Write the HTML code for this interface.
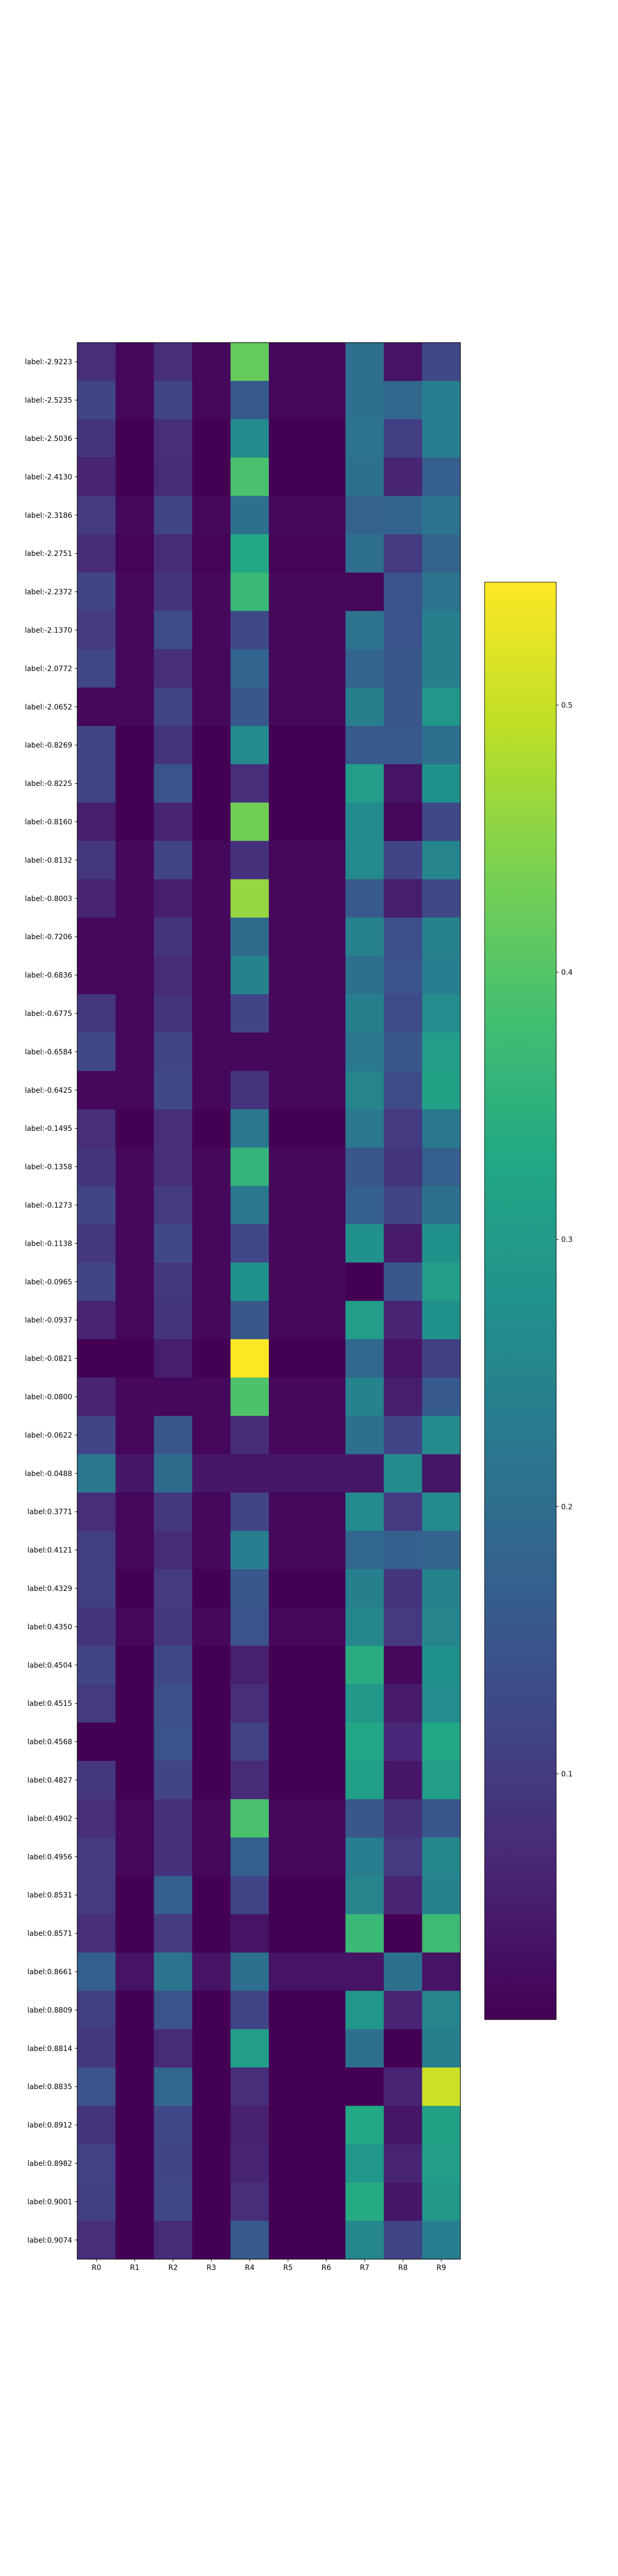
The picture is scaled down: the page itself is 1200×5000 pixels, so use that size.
<!DOCTYPE html>
<html><head><meta charset="utf-8"><style>
html,body{margin:0;padding:0;background:#fff;}
svg{display:block;}
text{font-family:"DejaVu Sans","Liberation Sans",sans-serif;font-size:13.9px;fill:#000;}
</style></head>
<body>
<svg id="chart" width="1200" height="5000" viewBox="0 0 1200 5000" xmlns="http://www.w3.org/2000/svg">
<defs><linearGradient id="vir" x1="0" y1="1" x2="0" y2="0"></linearGradient></defs>
<g id="cells"></g>
<g id="yaxis"></g>
<g id="xaxis"></g>
<rect x="150" y="665" width="744" height="3720" fill="none" stroke="#000" stroke-width="1.2"/>
<g id="cbar"></g>
</svg>
<script>
const rowLabels = ["label:-2.9223","label:-2.5235","label:-2.5036","label:-2.4130","label:-2.3186","label:-2.2751","label:-2.2372","label:-2.1370","label:-2.0772","label:-2.0652","label:-0.8269","label:-0.8225","label:-0.8160","label:-0.8132","label:-0.8003","label:-0.7206","label:-0.6836","label:-0.6775","label:-0.6584","label:-0.6425","label:-0.1495","label:-0.1358","label:-0.1273","label:-0.1138","label:-0.0965","label:-0.0937","label:-0.0821","label:-0.0800","label:-0.0622","label:-0.0488","label:0.3771","label:0.4121","label:0.4329","label:0.4350","label:0.4504","label:0.4515","label:0.4568","label:0.4827","label:0.4902","label:0.4956","label:0.8531","label:0.8571","label:0.8661","label:0.8809","label:0.8814","label:0.8835","label:0.8912","label:0.8982","label:0.9001","label:0.9074"];
const colLabels = ["R0","R1","R2","R3","R4","R5","R6","R7","R8","R9"];
const R0 = [.078,.116,.089,.062,.099,.073,.116,.099,.121,.019,.116,.116,.051,.094,.062,.019,.019,.094,.126,.019,.078,.089,.116,.094,.116,.062,.008,.062,.116,.223,.078,.105,.105,.089,.116,.099,.008,.094,.078,.099,.099,.078,.169,.105,.094,.148,.089,.11,.105,.078];
const R1 = [.019,.019,.008,.008,.019,.013,.019,.019,.019,.019,.008,.008,.008,.019,.019,.019,.019,.019,.019,.019,.008,.019,.019,.019,.019,.019,.008,.019,.019,.04,.019,.019,.008,.019,.008,.008,.008,.008,.019,.019,.008,.008,.035,.008,.008,.008,.008,.008,.008,.008];
const R2 = [.078,.116,.078,.073,.116,.073,.089,.132,.078,.116,.089,.148,.062,.116,.051,.089,.073,.089,.116,.126,.078,.078,.099,.126,.094,.089,.051,.019,.153,.196,.094,.073,.099,.094,.126,.137,.143,.116,.083,.083,.169,.099,.212,.143,.073,.186,.121,.116,.121,.073];
const R3 = [.019,.019,.008,.008,.019,.013,.019,.019,.019,.019,.008,.008,.008,.019,.019,.019,.019,.019,.019,.019,.008,.019,.019,.019,.019,.019,.008,.019,.019,.04,.019,.019,.008,.019,.008,.008,.008,.008,.019,.019,.008,.008,.035,.008,.008,.008,.008,.008,.008,.008];
const R4 = [.417,.159,.261,.39,.207,.331,.368,.126,.18,.153,.261,.078,.428,.083,.46,.196,.245,.116,.019,.089,.223,.358,.223,.121,.277,.153,.546,.395,.073,.04,.116,.234,.153,.143,.056,.078,.11,.073,.39,.169,.116,.035,.202,.116,.304,.078,.056,.062,.078,.159];
const R5 = [.019,.019,.008,.008,.019,.013,.019,.019,.019,.019,.008,.008,.008,.019,.019,.019,.019,.019,.019,.019,.008,.019,.019,.019,.019,.019,.008,.019,.019,.04,.019,.019,.008,.019,.008,.008,.008,.008,.019,.019,.008,.008,.035,.008,.008,.008,.008,.008,.008,.008];
const R6 = [.019,.019,.008,.008,.019,.013,.019,.019,.019,.019,.008,.008,.008,.019,.019,.019,.019,.019,.019,.019,.008,.019,.019,.019,.019,.019,.008,.019,.019,.04,.019,.019,.008,.019,.008,.008,.008,.008,.019,.019,.008,.008,.035,.008,.008,.008,.008,.008,.008,.008];
const R7 = [.202,.202,.212,.207,.175,.202,.019,.212,.18,.239,.159,.304,.261,.261,.159,.245,.207,.239,.223,.25,.223,.153,.169,.277,.008,.304,.186,.245,.207,.04,.261,.186,.239,.255,.342,.293,.325,.309,.153,.234,.25,.368,.035,.288,.207,.008,.331,.288,.336,.255];
const R8 = [.035,.186,.105,.062,.18,.099,.148,.143,.153,.153,.159,.035,.019,.116,.051,.137,.143,.132,.153,.132,.099,.089,.116,.046,.153,.062,.035,.051,.116,.261,.099,.169,.089,.099,.019,.046,.067,.04,.083,.099,.062,.008,.207,.062,.008,.062,.04,.062,.04,.116];
const R9 = [.126,.234,.234,.169,.212,.18,.212,.239,.239,.288,.202,.277,.126,.25,.126,.245,.234,.266,.304,.315,.223,.169,.207,.277,.304,.277,.105,.159,.261,.04,.261,.18,.245,.25,.277,.266,.331,.304,.153,.255,.245,.374,.035,.25,.239,.503,.315,.304,.293,.234];
const cbarTicks = [0.1,0.2,0.3,0.4,0.5];

const series = [R0,R1,R2,R3,R4,R5,R6,R7,R8,R9];
const NS = "http://www.w3.org/2000/svg";
const VIR = ["#440154","#482475","#414487","#355f8d","#2a788e","#21918c","#22a884","#44bf70","#7ad151","#bddf26","#fde725"];
function hex(c){return [parseInt(c.substr(1,2),16),parseInt(c.substr(3,2),16),parseInt(c.substr(5,2),16)];}
function viridis(t){
  t=Math.max(0,Math.min(1,t));
  const p=t*10, i=Math.min(9,Math.floor(p)), f=p-i;
  const a=hex(VIR[i]), b=hex(VIR[i+1]);
  return "rgb("+a.map((v,k)=>Math.round(v+(b[k]-v)*f)).join(",")+")";
}
let all=[]; series.forEach(s=>all=all.concat(s));
const vmin=Math.min(...all), vmax=Math.max(...all);
const X0=150, Y0=665, W=744, H=3720;
const cw=W/colLabels.length, rh=H/rowLabels.length;
const xPos=j=>X0+j*cw;
const yPos=i=>Y0+i*rh;
const norm=v=>(v-vmin)/(vmax-vmin);
function mk(tag,attrs,parent){const e=document.createElementNS(NS,tag);for(const k in attrs)e.setAttribute(k,attrs[k]);parent.appendChild(e);return e;}

const cells=document.getElementById("cells");
series.forEach((s,j)=>{
  s.forEach((v,i)=>{
    const r=mk("rect",{x:xPos(j),y:yPos(i),width:cw+0.5,height:rh+0.5,fill:viridis(norm(v))},cells);
    
    
  });
});
const ya=document.getElementById("yaxis");
rowLabels.forEach((lb,i)=>{
  const cy=yPos(i)+rh/2;
  const tk=mk("line",{x1:X0-4.9,x2:X0,y1:cy,y2:cy,stroke:"#000","stroke-width":1},ya);
  
  
  const t=mk("text",{x:X0-9.8,y:cy+5,"text-anchor":"end"},ya);
  t.textContent=lb;
  
  
});
const xa=document.getElementById("xaxis");
colLabels.forEach((lb,j)=>{
  const cx=xPos(j)+cw/2;
  const tk=mk("line",{x1:cx,x2:cx,y1:Y0+H,y2:Y0+H+4.9,stroke:"#000","stroke-width":1},xa);
  
  
  const t=mk("text",{x:cx,y:Y0+H+21,"text-anchor":"middle"},xa);
  t.textContent=lb;
  
  
});
// colorbar
const grad=document.getElementById("vir");
VIR.forEach((c,k)=>mk("stop",{offset:(k/10),"stop-color":c},grad));
const CB={x:941,y:1130,w:139,h:2790};
const cb=document.getElementById("cbar");
const cr=mk("rect",{x:CB.x,y:CB.y,width:CB.w,height:CB.h,fill:"url(#vir)",stroke:"#000","stroke-width":1},cb);


cbarTicks.forEach(v=>{
  const y=CB.y+CB.h-norm(v)*CB.h;
  const tk=mk("line",{x1:CB.x+CB.w,x2:CB.x+CB.w+4.9,y1:y,y2:y,stroke:"#000","stroke-width":1},cb);
  
  
  const t=mk("text",{x:CB.x+CB.w+9.8,y:y+5},cb);
  t.textContent=v.toFixed(1);
  
  
});
</script>
</body></html>
